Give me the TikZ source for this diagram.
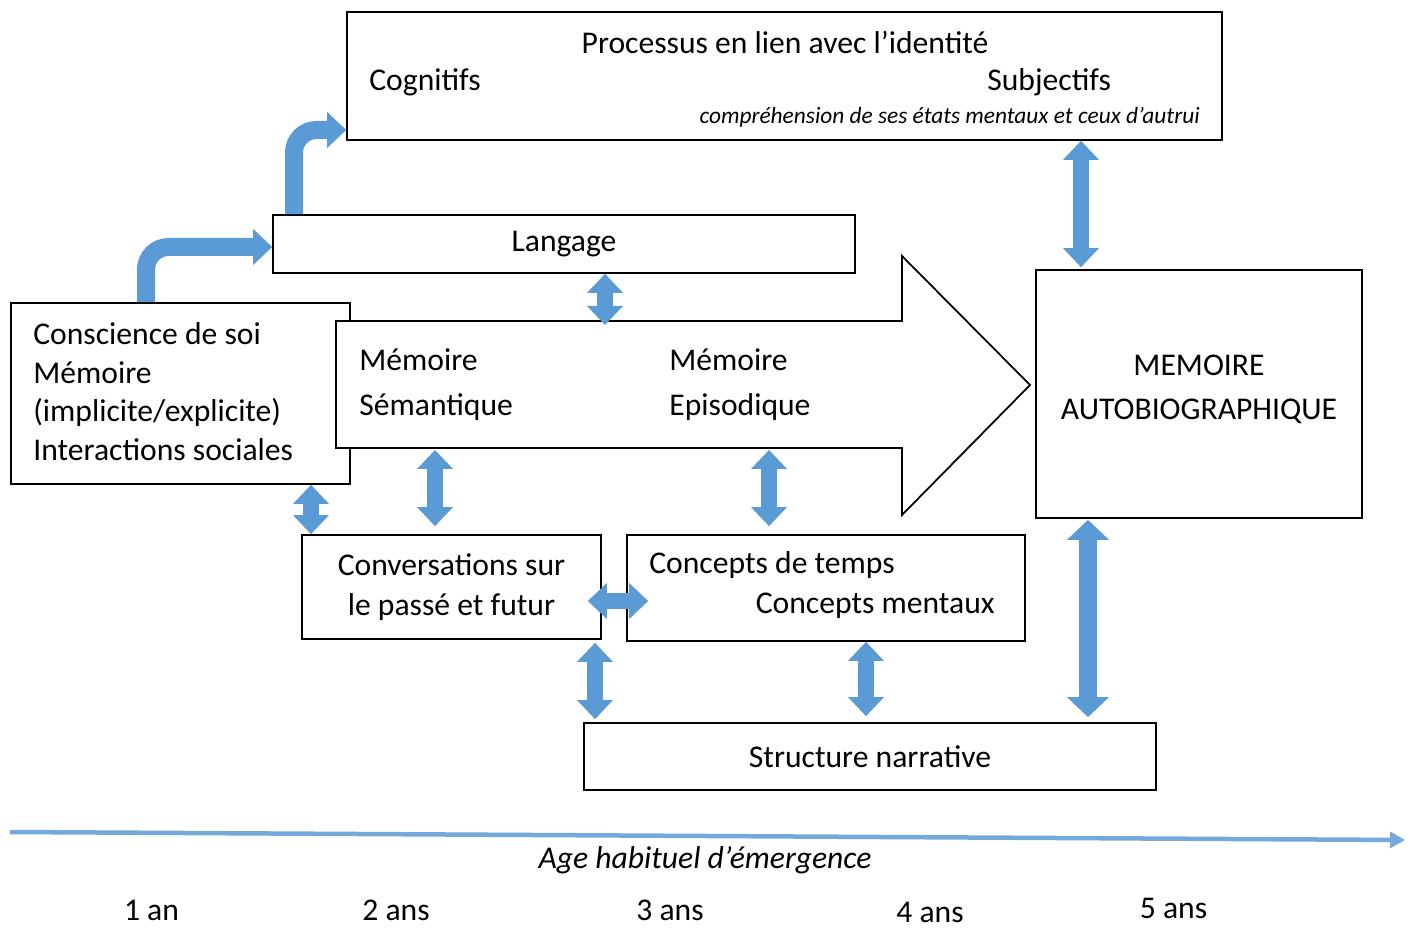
\documentclass[tikz,border=0pt]{standalone}
\usepackage{fontspec}
\setmainfont{Carlito}
\usetikzlibrary{arrows.meta,positioning,calc}

\definecolor{arrowblue}{HTML}{5B9BD5}
\newcommand\bodyfont{\fontsize{18}{22}\selectfont}
\newcommand\smallfont{\fontsize{13.3}{16}\selectfont\itshape}

\tikzset{
  box/.style={draw, line width=1pt, inner sep=0pt, fill=white},
  txt/.style={font=\bodyfont, inner sep=0pt},
  dbl/.style={draw=arrowblue, line width=0.33cm,
    {Triangle[width=0.72cm,length=0.38cm,line width=0pt]}-{Triangle[width=0.72cm,length=0.38cm,line width=0pt]}},
  dblwide/.style={dbl, line width=0.36cm,
    {Triangle[width=0.84cm,length=0.4cm,line width=0pt]}-{Triangle[width=0.84cm,length=0.4cm,line width=0pt]}},
  bent/.style={draw=arrowblue, line width=0.36cm, rounded corners=0.45cm,
    -{Triangle[width=0.72cm,length=0.38cm,line width=0pt]}},
}

\begin{document}
\begin{tikzpicture}[x=0.02cm,y=-0.02cm]
  \useasboundingbox (0,0) rectangle (1412,928);

  % boxes
  \node[box, minimum width=17.5cm, minimum height=2.56cm] (processus) at (784.5,76) {};
  \node[txt] (proc-title) at (785,42) {Processus en lien avec l’identité};
  \node[txt, anchor=west] (cognitifs) at (369,82) {Cognitifs};
  \node[txt, anchor=west] (subjectifs) at (987,82) {Subjectifs};
  \node[txt, font=\smallfont, anchor=east] (comprehension) at (1200,117) {compréhension de ses états mentaux et ceux d’autrui};

  \node[box, txt, draw, minimum width=11.64cm, minimum height=1.16cm] (langage) at (564,244) {Langage};

  \node[box, minimum width=6.78cm, minimum height=3.62cm] (conscience) at (180.5,393.5) {};
  \node[txt, anchor=west, align=flush left] (conscience-txt) at (33,391.5)
    {Conscience de soi\\Mémoire\\(implicite/explicite)\\Interactions sociales};

  \node[box, minimum width=6.52cm, minimum height=4.96cm] (autobio) at (1199,394) {};
  \node[txt, align=center] (autobio-txt) at (1199,389) {MEMOIRE\\[3pt]AUTOBIOGRAPHIQUE};

  \node[box, txt, draw, minimum width=5.98cm, minimum height=2.08cm, align=center] (conversations) at (451.5,587)
    {Conversations sur\\[1pt]le passé et futur};

  \node[box, minimum width=7.96cm, minimum height=2.12cm] (concepts) at (826,588) {};
  \node[txt, anchor=west] (temps) at (649,565) {Concepts de temps};
  \node[txt, anchor=east] (mentaux) at (995,606) {Concepts mentaux};

  \node[box, txt, draw, minimum width=11.44cm, minimum height=1.34cm] (narrative) at (870,756.5) {Structure narrative};

  % big arrow
  \draw[box] (336,321) coordinate (mem-nw) -- (902,321) -- (902,256) -- (1030,385) -- (902,515) -- (902,448) -- (336,448) coordinate (mem-sw) -- cycle;
  \node[txt, anchor=west] (sem1) at (359,360) {Mémoire};
  \node[txt, anchor=west] (sem2) at (359,407) {Sémantique};
  \node[txt, anchor=west] (epi1) at (669,360) {Mémoire};
  \node[txt, anchor=west] (epi2) at (669,407) {Episodique};

  % bent arrows
  \draw[bent] (conscience.north -| 146,0) |- ($(langage.west)+(0,3)$);
  \draw[bent] (langage.north -| 294,0) |- ($(processus.west)+(0,54)$);

  % double arrows
  \draw[dbl] (langage.south -| 605,0) -- ($(mem-nw -| 605,0)+(0,4)$);
  \draw[dbl] ($(mem-sw -| 435,0)+(0,2)$) -- ($(conversations.north -| 435,0)+(0,-8)$);
  \draw[dbl] ($(mem-sw -| 769,0)+(0,2)$) -- ($(concepts.north -| 769,0)+(0,-8)$);
  \draw[dbl] (conscience.south -| 311,0) -- (conversations.north -| 311,0);
  \draw[dbl] ($(conversations.east |- 0,601)+(-14,0)$) -- ($(concepts.west |- 0,601)+(22,0)$);
  \draw[dbl] ($(conversations.south -| 595,0)+(0,3)$) -- ($(narrative.north -| 595,0)+(0,-3)$);
  \draw[dbl] (concepts.south -| 866,0) -- ($(narrative.north -| 866,0)+(0,-6)$);
  \draw[dblwide] ($(autobio.south -| 1088,0)+(0,1)$) -- ($(narrative.north -| 1088,0)+(0,-5)$);
  \draw[dbl] (processus.south -| 1081,0) -- ($(autobio.north -| 1081,0)+(0,-2)$);

  % time line
  \coordinate (t0) at (10,832);
  \coordinate (t1) at (1405,840);
  \draw[draw=arrowblue!85, line width=0.09cm, -{Triangle[width=0.34cm,length=0.3cm,line width=0pt]}] (t0) -- (t1);
  \node[txt, font=\bodyfont\itshape] (age) at (705,860) {Age habituel d’émergence};
  \node[txt] (an1) at (151.5,910) {1 an};
  \node[txt] (an2) at (396,910) {2 ans};
  \node[txt] (an3) at (670,910) {3 ans};
  \node[txt] (an4) at (930,912) {4 ans};
  \node[txt] (an5) at (1173.5,908) {5 ans};
\end{tikzpicture}
\end{document}
